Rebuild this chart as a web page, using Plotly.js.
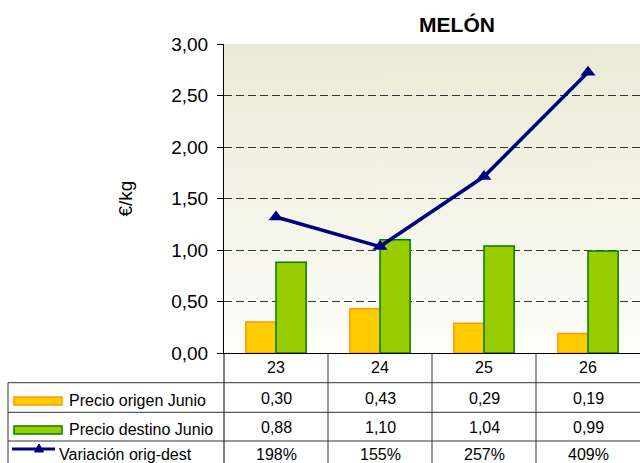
<!DOCTYPE html>
<html><head><meta charset="utf-8">
<script src="https://cdn.plot.ly/plotly-3.0.1.min.js"></script>
<style>html,body{margin:0;padding:0;background:#fff}</style>
</head><body><div id="chart" style="width:640px;height:463px"></div>
<script>
// ---- data ----
const categories = ['23', '24', '25', '26'];
const precioOrigen = [0.30, 0.43, 0.29, 0.19];
const precioDestino = [0.88, 1.10, 1.04, 0.99];
const variacionPct = [198, 155, 257, 409];
const seriesNames = ['Precio origen Junio', 'Precio destino Junio', 'Variación orig-dest'];
const chartTitle = 'MELÓN';
const yAxisTitle = '€/kg';

// ---- geometry helpers (pixel -> paper) ----
const W = 640, H = 463, ML = 224, MR = 0, MT = 44, MB = 110;
const PW = W - ML - MR, PH = H - MT - MB;
const xp = X => (X - ML) / PW;
const yp = Y => (H - MB - Y) / PH;
const FONT = 'Liberation Sans, Arial, sans-serif';

function gradientURL() {
  const c = document.createElement('canvas');
  c.width = 4; c.height = 256;
  const g = c.getContext('2d');
  const gr = g.createLinearGradient(0, 0, 0, 256);
  gr.addColorStop(0, '#EAEBD5');
  gr.addColorStop(1, '#FDFDFA');
  g.fillStyle = gr; g.fillRect(0, 0, 4, 256);
  return c.toDataURL();
}
const fmt = v => v.toFixed(2).replace('.', ',');

const traces = [
  {type: 'bar', name: seriesNames[0], x: categories, y: precioOrigen,
   marker: {color: '#FFCC00', line: {color: '#FF9900', width: 1.5}}, hoverinfo: 'none'},
  {type: 'bar', name: seriesNames[1], x: categories, y: precioDestino,
   marker: {color: '#99CC00', line: {color: '#008000', width: 1.5}}, hoverinfo: 'none'},
  {type: 'scatter', mode: 'lines+markers', name: seriesNames[2], x: categories, y: variacionPct,
   yaxis: 'y2', line: {color: '#000080', width: 3.5},
   marker: {symbol: 'triangle-up', size: 13, color: '#000080'}, hoverinfo: 'none'}
];

const lineStyle = {color: '#333', width: 1};
const shapes = [];
// category separators below axis
for (let i = 0; i < categories.length - 1; i++) {
  shapes.push({type: 'line', xref: 'x', yref: 'paper', x0: i + 0.5, x1: i + 0.5,
    y0: yp(353), y1: yp(475), line: lineStyle});
}
// left axis extension & table left border
shapes.push({type: 'line', xref: 'paper', yref: 'paper', x0: 0, x1: 0, y0: yp(353), y1: yp(475), line: {color: '#000', width: 1}});
shapes.push({type: 'line', xref: 'paper', yref: 'paper', x0: xp(8), x1: xp(8), y0: yp(382.7), y1: yp(475), line: lineStyle});
[382.7, 412.3, 441].forEach(Y => shapes.push({type: 'line', xref: 'paper', yref: 'paper',
  x0: xp(8), x1: 1, y0: yp(Y), y1: yp(Y), line: lineStyle}));
// legend keys
shapes.push({type: 'rect', xref: 'paper', yref: 'paper', x0: xp(14), x1: xp(62), y0: yp(397), y1: yp(405),
  fillcolor: '#FFCC00', line: {color: '#FF9900', width: 1.5}});
shapes.push({type: 'rect', xref: 'paper', yref: 'paper', x0: xp(14), x1: xp(62), y0: yp(426), y1: yp(434),
  fillcolor: '#99CC00', line: {color: '#008000', width: 1.5}});
shapes.push({type: 'line', xref: 'paper', yref: 'paper', x0: xp(12), x1: xp(55), y0: yp(449), y1: yp(449),
  line: {color: '#000080', width: 3}});
shapes.push({type: 'path', xref: 'paper', yref: 'paper',
  path: `M ${xp(34.5)} ${yp(452)} L ${xp(43.5)} ${yp(452)} L ${xp(39)} ${yp(444)} Z`,
  fillcolor: '#000080', line: {color: '#000080', width: 1}});

const annotations = [];
const rowY = [367.5, 398.5, 427.5, 454.5];
const cellFont = {family: FONT, size: 16, color: '#000'};
categories.forEach((c, i) => {
  const rows = [c, fmt(precioOrigen[i]), fmt(precioDestino[i]), variacionPct[i] + '%'];
  rows.forEach((t, r) => annotations.push({xref: 'x', yref: 'paper', x: i, y: yp(rowY[r]), text: t,
    showarrow: false, font: cellFont, xanchor: 'center', yanchor: 'middle'}));
});
annotations.push({xref: 'paper', yref: 'paper', x: xp(67), y: yp(400.5), xanchor: 'left', yanchor: 'middle', text: seriesNames[0], showarrow: false, font: cellFont});
annotations.push({xref: 'paper', yref: 'paper', x: xp(67), y: yp(429.5), xanchor: 'left', yanchor: 'middle', text: seriesNames[1], showarrow: false, font: cellFont});
annotations.push({xref: 'paper', yref: 'paper', x: xp(57), y: yp(454.5), xanchor: 'left', yanchor: 'middle', text: seriesNames[2], showarrow: false, font: cellFont});

const layout = {
  width: W, height: H,
  margin: {l: ML, r: MR, t: MT, b: MB},
  paper_bgcolor: '#fff', plot_bgcolor: 'rgba(0,0,0,0)',
  separators: ',.',
  showlegend: false,
  barmode: 'group', bargap: 0.42, bargroupgap: 0,
  title: {text: '<b>' + chartTitle + '</b>', font: {family: FONT, size: 21, color: '#000'},
    xref: 'container', x: 457 / W, xanchor: 'center', yref: 'container', y: 1 - 25 / H, yanchor: 'middle'},
  xaxis: {type: 'category', range: [-0.5, 3.5], showticklabels: false, ticks: '', showgrid: false,
    showline: true, linecolor: '#000', linewidth: 1, zeroline: false, fixedrange: true},
  yaxis: {range: [0, 3], tickvals: [0, 0.5, 1, 1.5, 2, 2.5, 3], tickformat: '.2f',
    ticks: 'outside', ticklen: 6, tickcolor: '#000', ticklabelstandoff: 5,
    tickfont: {family: FONT, size: 19, color: '#000'},
    showline: true, linecolor: '#000', linewidth: 1, zeroline: false,
    showgrid: true, gridcolor: '#333', gridwidth: 1, griddash: '8px,4px',
    title: {text: yAxisTitle, font: {family: FONT, size: 19, color: '#000'}, standoff: 33},
    fixedrange: true},
  yaxis2: {overlaying: 'y', range: [0, 450], visible: false, fixedrange: true},
  shapes: shapes,
  annotations: annotations,
  images: [{source: gradientURL(), xref: 'paper', yref: 'paper', x: 0, y: 1, sizex: 1, sizey: 1,
    xanchor: 'left', yanchor: 'top', sizing: 'stretch', layer: 'below'}]
};

Plotly.newPlot('chart', traces, layout, {displayModeBar: false, staticPlot: true});
</script></body></html>
